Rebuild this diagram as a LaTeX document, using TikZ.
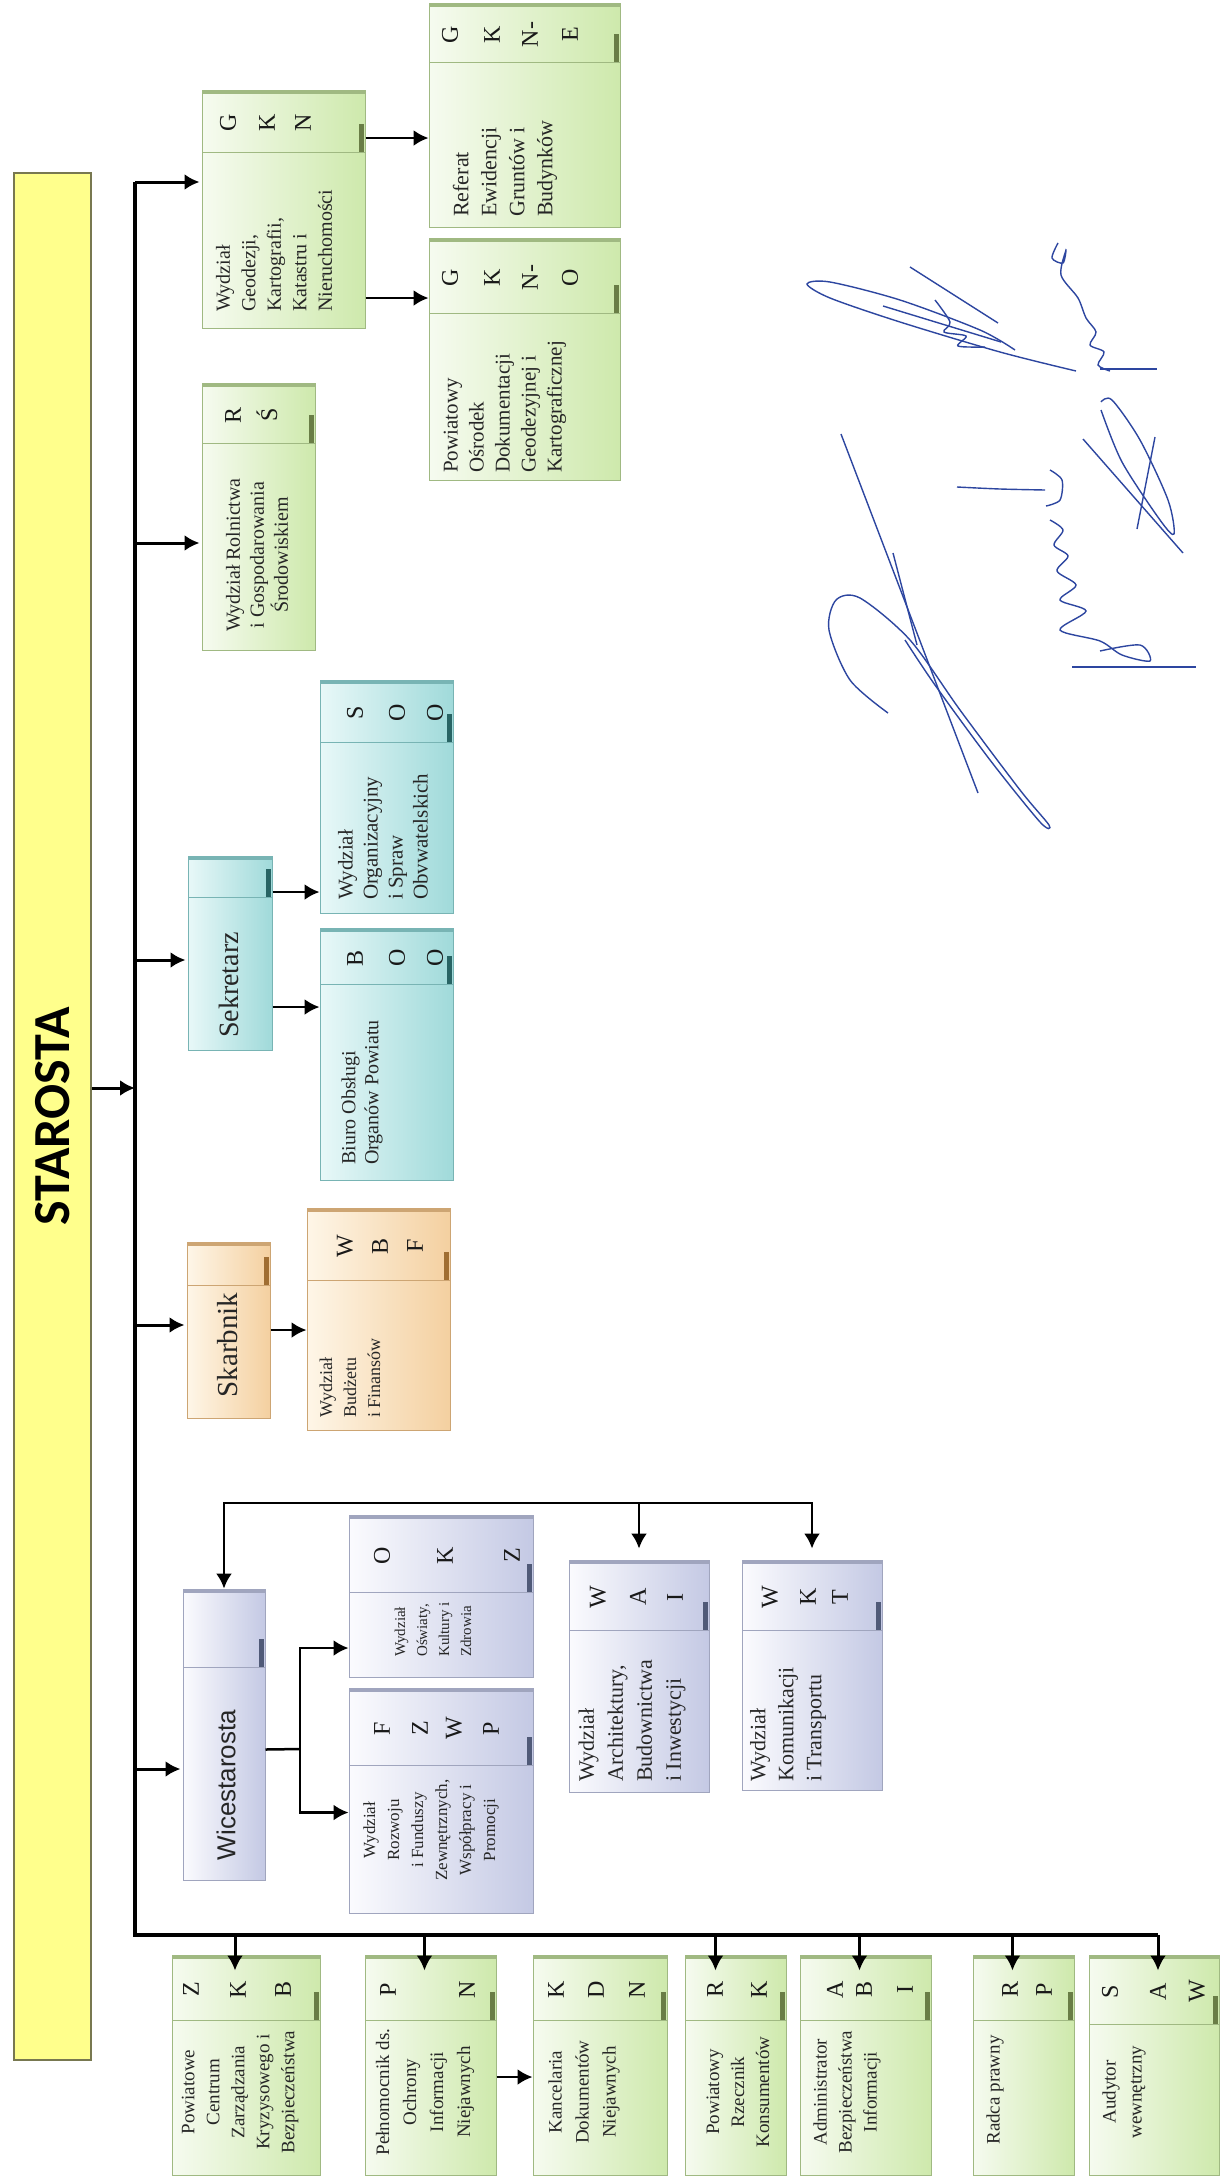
\documentclass[tikz,border=0pt]{standalone}
\usepackage{fontspec}
\setmainfont{Liberation Serif}
\setsansfont{Liberation Sans}
\newfontfamily\headfont{Carlito}
\usetikzlibrary{arrows.meta, fit}

\definecolor{grnL}{RGB}{246,251,240}
\definecolor{grnR}{RGB}{206,233,172}
\definecolor{grnD}{RGB}{160,185,130}
\definecolor{grnT}{RGB}{105,125,70}
\definecolor{lavL}{RGB}{251,251,254}
\definecolor{lavR}{RGB}{196,201,228}
\definecolor{lavD}{RGB}{160,165,190}
\definecolor{lavT}{RGB}{80,90,120}
\definecolor{cynL}{RGB}{232,248,248}
\definecolor{cynR}{RGB}{160,218,218}
\definecolor{cynD}{RGB}{120,180,180}
\definecolor{cynT}{RGB}{40,100,100}
\definecolor{ornL}{RGB}{254,246,232}
\definecolor{ornR}{RGB}{244,208,160}
\definecolor{ornD}{RGB}{205,165,115}
\definecolor{ornT}{RGB}{160,110,50}
\definecolor{barY}{RGB}{255,255,140}
\definecolor{barD}{RGB}{120,120,80}
\definecolor{ink}{RGB}{45,70,160}

% one office: name, colour, x1, y1, x2, y2, divider, letters
\newcommand{\office}[8]{%
  \node[officebox=#2, fit={(#3,#4) (#5,#6)}] (#1) {};
  \fill[#2D] (#3,#4) rectangle (#5,#4+4);
  \draw[#2D, line width=1pt] (#3,#7) -- (#5,#7);
  \fill[#2T] (#5-6,#7) rectangle (#5-1,#7-28);
  \foreach \lx/\lt [count=\i] in {#8}
    \node[abbr] (#1-\i) at (\lx,{(#4+#7)/2+2}) {\lt};
}

\begin{document}
\begin{tikzpicture}[x=1pt, y=-1pt,
  >={Latex[length=15pt,width=16pt]},
  officebox/.style={inner sep=0pt, draw=#1D, line width=1pt, left color=#1L, right color=#1R},
  abbr/.style={rotate=90, inner sep=0pt, font=\fontsize{24}{24}\selectfont, text=black!90},
  txt/.style 2 args={rotate=90, inner sep=0pt, align=center, text=black!85, font=\fontsize{#1}{#2}\selectfont},
  txtl/.style 2 args={txt={#1}{#2}, align=left, anchor=west},
  trunk/.style={line width=3.5pt},
  arr/.style={->, line width=3pt, shorten >=2pt},
  subarr/.style={->, line width=2.5pt},
  sig/.style={ink, line width=1.4pt}]

\fill[white] (0,0) rectangle (1231,2177);

% head
\node[inner sep=0pt, draw=barD, line width=1.5pt, fill=barY, fit={(14,173) (91,2060)}] (starosta) {};
\node[rotate=90, font=\headfont\bfseries\fontsize{52}{52}\selectfont] (starosta-t) at (starosta.center) {STAROSTA};

% offices
\office{gkn}{grn}{202}{90}{365}{328}{152}{228/G, 267/K, 303/N}
\office{gkne}{grn}{429}{3}{620}{227}{62}{450/G, 492/K, 530/N-, 570/E}
\office{gkno}{grn}{429}{238}{620}{480}{313}{450/G, 492/K, 530/N-, 570/O}
\office{rs}{grn}{202}{383}{315}{650}{443}{233/R, 267/Ś}
\office{sek}{cyn}{188}{856}{272}{1050}{897}{}
\office{soo}{cyn}{320}{680}{453}{913}{742}{355/S, 397/O, 435/O}
\office{boo}{cyn}{320}{928}{453}{1180}{984}{355/B, 397/O, 435/O}
\office{skb}{orn}{187}{1242}{270}{1418}{1285}{}
\office{wbf}{orn}{307}{1208}{450}{1430}{1280}{345/W, 380/B, 415/F}
\office{wice}{lav}{183}{1589}{265}{1880}{1667}{}
\office{okz}{lav}{349}{1515}{533}{1677}{1592}{382/O, 445/K, 512/Z}
\office{fzwp}{lav}{349}{1688}{533}{1913}{1765}{382/F, 420/Z, 454/W, 491/P}
\office{wai}{lav}{569}{1560}{709}{1792}{1630}{598/W, 638/A, 675/I}
\office{wkt}{lav}{742}{1560}{882}{1790}{1630}{770/W, 808/K, 840/T}
\office{pcz}{grn}{172}{1955}{320}{2175}{2020}{191/Z, 238/K, 283/B}
\office{pel}{grn}{365}{1955}{496}{2175}{2020}{388/P, 467/N}
\office{kdn}{grn}{533}{1955}{667}{2175}{2020}{556/K, 596/D, 637/N}
\office{prk}{grn}{685}{1955}{786}{2175}{2020}{715/R, 759/K}
\office{abi}{grn}{800}{1955}{931}{2175}{2020}{835/A, 864/B, 905/I}
\office{rp}{grn}{973}{1955}{1074}{2175}{2020}{1010/R, 1044/P}
\office{aw}{grn}{1089}{1955}{1219}{2175}{2024}{1110/S, 1158/A, 1197/W}

% names
\node[txtl={20}{25.5}] (gkn-t) at (274,312) {Wydział\\Geodezji,\\Kartografii,\\Katastru i\\Nieruchomości};
\node[txtl={22}{28}] (gkne-t) at (505,217) {Referat\\Ewidencji\\Gruntów i\\Budynków};
\node[txtl={21}{26}] (gkno-t) at (505,473) {Powiatowy\\Ośrodek\\Dokumentacji\\Geodezyjnej i\\Kartograficznej};
\node[txt={20}{24}] (rs-t) at (257,555) {Wydział Rolnictwa\\i Gospodarowania\\Środowiskiem};
\node[txt={28}{28}] (sek-t) at (229,985) {Sekretarz};
\node[txtl={21}{25}] (soo-t) at (383,900) {Wydział\\Organizacyjny\\i Spraw\\Obvwatelskich};
\node[txtl={20}{23}] (boo-t) at (362,1165) {Biuro Obsługi\\Organów Powiatu};
\node[txt={29}{29}] (skb-t) at (228,1345) {Skarbnik};
\node[txtl={18}{24}] (wbf-t) at (350,1418) {Wydział\\Budżetu\\i Finansów};
\node[txt={26}{26}, font=\sffamily\fontsize{26}{26}\selectfont] (wice-t) at (226,1785) {Wicestarosta};
\node[txtl={15}{22}] (okz-t) at (433,1657) {Wydział\\Oświaty,\\Kultury i\\Zdrowia};
\node[txt={17}{24}] (fzwp-t) at (431,1830) {Wydział\\Rozwoju\\i Funduszy\\Zewnętrznych,\\Współpracy i\\Promocji};
\node[txtl={22}{29}] (wai-t) at (632,1782) {Wydział\\Architektury,\\Budownictwa\\i Inwestycji};
\node[txtl={22}{28}] (wkt-t) at (788,1782) {Wydział\\Komunikacji\\i Transportu};
\node[txt={19}{25}] (pcz-t) at (240,2092) {Powiatowe\\Centrum\\Zarządzania\\Kryzysowego i\\Bezpieczeństwa};
\node[txt={19}{27}] (pel-t) at (425,2092) {Pełnomocnik ds.\\Ochrony\\Informacji\\Niejawnych};
\node[txt={19}{27}] (kdn-t) at (584,2092) {Kancelaria\\Dokumentów\\Niejawnych};
\node[txt={19}{25}] (prk-t) at (738,2092) {Powiatowy\\Rzecznik\\Konsumentów};
\node[txt={19}{25}] (abi-t) at (847,2092) {Administrator\\Bezpieczeństwa\\Informacji};
\node[txt={19}{25}] (rp-t) at (995,2090) {Radca prawny};
\node[txt={19}{26}] (aw-t) at (1124,2092) {Audytor\\wewnętrzny};

% trunk
\coordinate (bus) at (135,182);
\coordinate (corner) at (135,1935);
\draw[trunk] (bus) -- (corner) -- ([xshift=4pt]aw.north |- corner);
\draw[arr, shorten >=0pt] ([yshift=28.5pt]starosta.east) -- ([yshift=28.5pt]starosta.east -| bus);
\draw[arr] ([yshift=27pt]gkn.west -| bus) -- ([yshift=27pt]gkn.west);
\draw[arr] ([yshift=-26.5pt]rs.west -| bus) -- ([yshift=-26.5pt]rs.west);
\draw[arr] ([yshift=-7pt]sek.west -| bus) -- ([yshift=-7pt]sek.west);
\draw[arr] ([yshift=5pt]skb.west -| bus) -- ([yshift=5pt]skb.west);
\draw[arr] ([yshift=-34.5pt]wice.west -| bus) -- ([yshift=-34.5pt]wice.west);
\foreach \b/\dx in {pcz/-11, pel/-6, prk/-20, abi/-6, rp/-11, aw/4}
  \draw[arr, shorten >=0pt] ([xshift=\dx pt]\b.north |- corner) -- ([xshift=\dx pt, yshift=-16pt]\b.north);

% sub levels
\draw[subarr] ([yshift=71pt]gkn.east) -- ([yshift=71pt]gkn.east -| gkne.west);
\draw[subarr] ([yshift=-89pt]gkn.east) -- ([yshift=-89pt]gkn.east -| gkno.west);
\draw[subarr] ([yshift=61pt]sek.east) -- ([yshift=61pt]sek.east -| soo.west);
\draw[subarr] ([yshift=-54pt]sek.east) -- ([yshift=-54pt]sek.east -| boo.west);
\draw[subarr] (skb.east) -- (skb.east -| wbf.west);
\coordinate (wfork) at (300,1749);
\draw[subarr, -] ([yshift=-15pt]wice.east) -- (wfork);
\draw[subarr] (wfork) |- ([yshift=-52pt]okz.west);
\draw[subarr] (wfork) |- ([yshift=-12pt]fzwp.west);
\coordinate (hub) at (wai.north |- 0,1503);
\draw[subarr] (hub) -| (wice.north);
\draw[subarr, shorten >=11pt] (hub) -- (wai.north);
\draw[subarr, shorten >=11pt] (hub) -| (wkt.north);
\draw[subarr] ([yshift=-12pt]pel.east) -- ([yshift=-12pt]pel.east -| kdn.west);

% signatures
\draw[sig] plot[smooth] coordinates {(1076,371) (1000,352) (900,322) (830,298) (807,284) (830,282) (900,300) (980,330) (1015,350)};
\draw[sig] (910,267) -- (998,323);
\draw[sig] (883,306) -- (1001,342);
\draw[sig] plot[smooth] coordinates {(935,300) (950,322) (944,332) (966,336) (958,346) (985,347)};
\draw[sig] plot[smooth] coordinates {(1058,243) (1052,258) (1063,263) (1066,250) (1061,275) (1078,298) (1086,318) (1096,332) (1090,345) (1104,352) (1098,365) (1110,371)};
\draw[sig] (1100,369) -- (1157,369);
\draw[sig] (841,434) -- (978,793);
\draw[sig] plot[smooth] coordinates {(888,713) (850,680) (829,630) (836,600) (860,598) (910,640) (960,710) (1020,790) (1049,825) (1040,822) (990,760) (935,685) (905,640)};
\draw[sig] (893,553) -- (917,645);
\draw[sig] plot[smooth] coordinates {(957,487) (1000,489) (1045,490)};
\draw[sig] plot[smooth] coordinates {(1050,470) (1062,480) (1060,500) (1046,506)};
\draw[sig] plot[smooth] coordinates {(1050,520) (1063,530) (1054,545) (1068,556) (1057,571) (1076,585) (1060,600) (1086,611) (1060,630) (1100,641) (1122,655) (1150,661) (1140,645) (1100,651)};
\draw[sig] (1072,667) -- (1196,667);
\draw[sig] (1083,439) -- (1183,553);
\draw[sig] (1137,529) -- (1155,437);
\draw[sig] plot[smooth] coordinates {(1101,402) (1112,400) (1140,440) (1168,500) (1174,534) (1160,520) (1122,462) (1101,410)};

\end{tikzpicture}
\end{document}
